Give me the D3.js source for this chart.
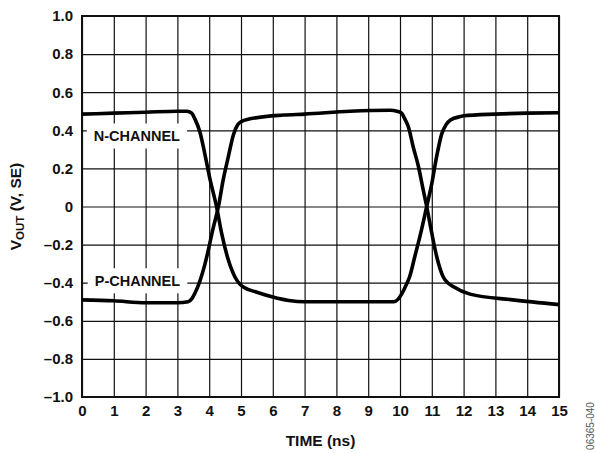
<!DOCTYPE html>
<html><head><meta charset="utf-8">
<script src="https://cdn.jsdelivr.net/npm/d3@7"></script>
<style>
html,body{margin:0;padding:0;background:#fff;}
svg{display:block;font-family:Arial,"Liberation Sans",sans-serif;}
</style></head>
<body>
<svg id="chart" width="595" height="453"></svg>
<script>
// ---- data ----
const xTicks = [0,1,2,3,4,5,6,7,8,9,10,11,12,13,14,15];
const yTicks = [-1,-0.8,-0.6,-0.4,-0.2,0,0.2,0.4,0.6,0.8,1];
const nTime = [0,1,2,3,3.3,3.45,3.55,3.71,3.87,4.03,4.23,4.39,4.6,4.81,4.95,5.1,5.5,6.0,6.5,7,8,9.8,9.95,10.05,10.2,10.3,10.47,10.68,10.84,11.0,11.15,11.31,11.45,11.6,11.9,12,13,14,15];
const nVout = [0.485,0.49,0.495,0.5,0.5,0.49,0.46,0.39,0.27,0.14,0,-0.14,-0.28,-0.37,-0.405,-0.425,-0.45,-0.475,-0.493,-0.5,-0.5,-0.5,-0.485,-0.46,-0.41,-0.37,-0.26,-0.12,0,0.12,0.26,0.38,0.43,0.455,0.472,0.476,0.485,0.49,0.492];
const pTime = [0,1,2,3,3.34,3.45,3.55,3.71,3.87,4.13,4.29,4.44,4.6,4.76,4.9,5.0,5.28,6.33,7,8.43,9.7,9.9,10.05,10.15,10.26,10.42,10.58,10.73,10.84,11.0,11.15,11.36,11.5,11.67,12.2,13.55,15];
const pVout = [-0.49,-0.495,-0.505,-0.505,-0.5,-0.485,-0.455,-0.39,-0.3,-0.11,0,0.14,0.26,0.375,0.43,0.445,0.46,0.48,0.485,0.5,0.505,0.5,0.49,0.46,0.42,0.31,0.21,0.087,0,-0.14,-0.26,-0.37,-0.4,-0.42,-0.46,-0.49,-0.515];
const labels = [{text:"N-CHANNEL", t:0.37, v:0.37}, {text:"P-CHANNEL", t:0.4, v:-0.39}];

// ---- layout ----
const svg = d3.select("#chart");
const L = 82, R = 559, T = 16, B = 397;
const W = R - L, H = B - T;
const x = d3.scaleLinear().domain([0,15]).range([L,R]);
const y = d3.scaleLinear().domain([-1,1]).range([B,T]);
const fmt = v => v === 0 ? "0" : (v < 0 ? "\u2013" : "") + Math.abs(v).toFixed(1);

// grid + labels via axes
const gx = svg.append("g").attr("transform",`translate(0,${B})`)
  .call(d3.axisBottom(x).tickValues(xTicks).tickSize(-H).tickPadding(8.5).tickFormat(d3.format("d")));
const gy = svg.append("g").attr("transform",`translate(${L},0)`)
  .call(d3.axisLeft(y).tickValues(yTicks).tickSize(-W).tickPadding(9).tickFormat(fmt));
[gx,gy].forEach(g=>{
  g.select(".domain").remove();
  g.selectAll("line").attr("stroke","#111").attr("stroke-width",1.2);
  g.selectAll("text").attr("fill","#111").attr("font-size",15).attr("font-weight","bold")
    .attr("font-family","Arial, 'Liberation Sans', sans-serif");
});

// frame
svg.append("rect").attr("x",L).attr("y",T).attr("width",W).attr("height",H)
  .attr("fill","none").attr("stroke","#111").attr("stroke-width",2);

// channel labels with white backgrounds
labels.forEach(d=>{
  const g = svg.append("g");
  const tx = x(d.t), ty = y(d.v);
  const txt = g.append("text").attr("x",tx).attr("y",ty).attr("dy","0.35em")
    .attr("font-size",14.5).attr("font-weight","bold").attr("fill","#111").text(d.text);
  const bb = txt.node().getBBox();
  g.insert("rect","text").attr("x",bb.x-7).attr("y",ty-12.5).attr("width",bb.width+14).attr("height",25).attr("fill","#fff");
});

// traces
const line = d3.line().x(d=>x(d[0])).y(d=>y(d[1])).curve(d3.curveMonotoneX);
svg.append("path").datum(d3.zip(nTime,nVout)).attr("d",line)
  .attr("fill","none").attr("stroke","#000").attr("stroke-width",3.6).attr("stroke-linejoin","round");
svg.append("path").datum(d3.zip(pTime,pVout)).attr("d",line)
  .attr("fill","none").attr("stroke","#000").attr("stroke-width",3.6).attr("stroke-linejoin","round");

// axis titles
svg.append("text").attr("x",(L+R)/2).attr("y",445.5).attr("text-anchor","middle")
  .attr("font-size",15.5).attr("font-weight","bold").attr("fill","#111").text("TIME (ns)");
const yt = svg.append("text").attr("transform",`translate(21,${(T+B)/2}) rotate(-90)`)
  .attr("text-anchor","middle").attr("font-size",15.5).attr("font-weight","bold").attr("fill","#111");
yt.append("tspan").text("V");
yt.append("tspan").attr("font-size",11.5).attr("dy",3).text("OUT");
yt.append("tspan").attr("dy",-3).text(" (V, SE)");

// figure code
svg.append("text").attr("transform","translate(593.5,426) rotate(-90)").attr("text-anchor","middle")
  .attr("font-size",10).attr("fill","#555").text("06365-040");
</script>
</body></html>
